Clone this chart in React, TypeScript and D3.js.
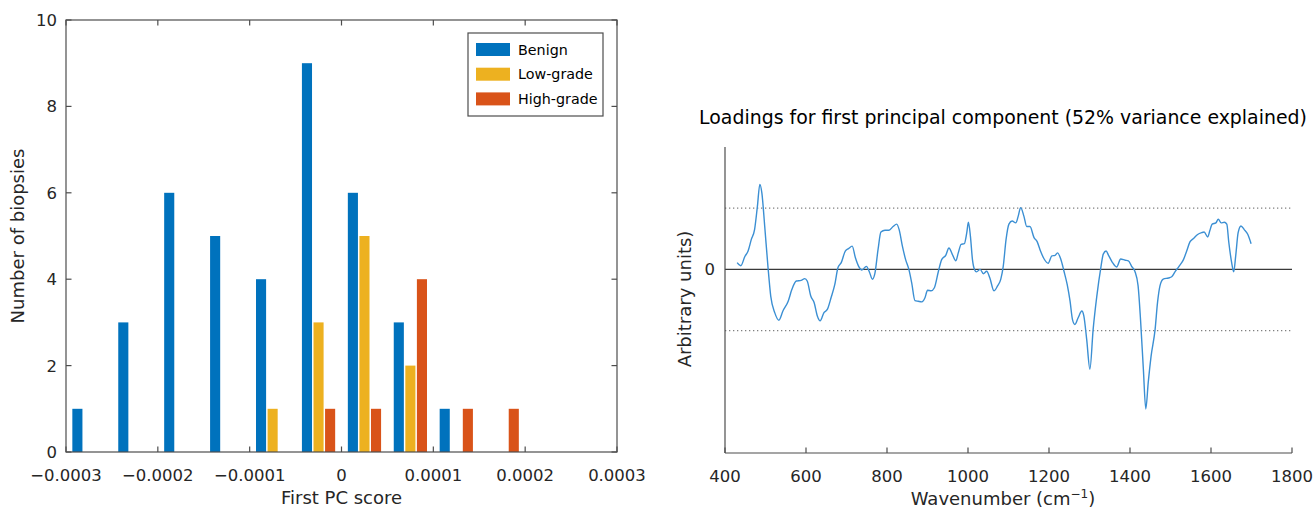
import React from "react";
import * as d3 from "d3";

// ---------- Left chart data (histogram of first PC score) ----------
const binCenters = [-0.000275, -0.000225, -0.000175, -0.000125, -0.000075, -0.000025, 0.000025, 0.000075, 0.000125, 0.000175, 0.000225, 0.000275];
const binWidth = 0.00005;
const benign = [1, 3, 6, 5, 4, 9, 6, 3, 1, 0, 0, 0];
const lowGrade = [0, 0, 0, 0, 1, 3, 5, 2, 0, 0, 0, 0];
const highGrade = [0, 0, 0, 0, 0, 1, 1, 4, 1, 1, 0, 0];
const seriesNames = ["Benign", "Low-grade", "High-grade"];
const seriesColors = ["#0072BD", "#EDB120", "#D95319"];
const xTicksLeft = [-0.0003, -0.0002, -0.0001, 0, 0.0001, 0.0002, 0.0003];
const xTickLabelsLeft = ["\u22120.0003", "\u22120.0002", "\u22120.0001", "0", "0.0001", "0.0002", "0.0003"];
const yTicksLeft = [0, 2, 4, 6, 8, 10];

// ---------- Right chart data (PC1 loadings) ----------
const wavenumbers = [430, 439, 449, 457, 465, 473, 480, 486, 491, 498, 506, 513, 523, 533, 543, 556, 565, 576, 588, 597, 603, 612, 620, 628, 635, 644, 653, 662, 671, 679, 687, 697, 705, 714, 722, 730, 738, 749, 757, 764, 770, 778, 785, 795, 805, 815, 824, 830, 838, 846, 854, 861, 869, 877, 886, 894, 900, 909, 917, 927, 935, 945, 953, 961, 970, 976, 983, 991, 997, 1001, 1006, 1011, 1016, 1021, 1030, 1038, 1046, 1054, 1064, 1073, 1081, 1087, 1094, 1101, 1109, 1118, 1124, 1130, 1138, 1145, 1153, 1163, 1171, 1179, 1188, 1198, 1207, 1215, 1221, 1229, 1237, 1245, 1252, 1258, 1264, 1272, 1281, 1286, 1293, 1301, 1309, 1318, 1328, 1334, 1341, 1347, 1356, 1367, 1377, 1388, 1396, 1404, 1412, 1420, 1426, 1433, 1439, 1445, 1452, 1462, 1468, 1474, 1482, 1495, 1503, 1511, 1521, 1532, 1540, 1548, 1556, 1567, 1577, 1583, 1592, 1597, 1603, 1612, 1618, 1625, 1633, 1639, 1644, 1651, 1656, 1661, 1667, 1674, 1682, 1691, 1699];
const loadings = [0.11, 0.06, 0.21, 0.30, 0.49, 0.65, 1.03, 1.39, 1.25, 0.71, 0.05, -0.44, -0.71, -0.83, -0.68, -0.52, -0.33, -0.19, -0.18, -0.15, -0.19, -0.44, -0.54, -0.76, -0.84, -0.71, -0.65, -0.46, -0.25, 0.03, 0.11, 0.30, 0.34, 0.38, 0.19, 0.05, -0.01, 0.05, -0.05, -0.16, -0.07, 0.33, 0.61, 0.64, 0.64, 0.70, 0.74, 0.65, 0.38, 0.16, 0.0, -0.22, -0.51, -0.52, -0.53, -0.46, -0.34, -0.35, -0.30, -0.03, 0.16, 0.23, 0.35, 0.25, 0.14, 0.27, 0.41, 0.42, 0.60, 0.77, 0.54, 0.16, 0.0, -0.04, 0.0, -0.07, -0.03, -0.14, -0.35, -0.27, -0.16, 0.05, 0.49, 0.74, 0.79, 0.76, 0.87, 1.01, 0.87, 0.70, 0.70, 0.52, 0.45, 0.30, 0.17, 0.10, 0.22, 0.23, 0.27, 0.17, -0.03, -0.25, -0.52, -0.82, -0.90, -0.79, -0.68, -0.76, -1.14, -1.63, -0.98, -0.44, 0.03, 0.25, 0.30, 0.23, 0.12, 0.04, 0.17, 0.15, 0.14, 0.05, -0.03, -0.27, -0.82, -1.63, -2.28, -1.85, -1.42, -0.98, -0.54, -0.27, -0.16, -0.14, -0.12, -0.04, 0.05, 0.16, 0.30, 0.45, 0.50, 0.57, 0.60, 0.61, 0.53, 0.63, 0.74, 0.76, 0.82, 0.76, 0.77, 0.74, 0.44, 0.11, -0.04, 0.22, 0.60, 0.71, 0.65, 0.57, 0.42];
const xTicksRight = [400, 600, 800, 1000, 1200, 1400, 1600, 1800];
const thresholdLevels = [1, -1];

const FONT = "DejaVu Sans";

export default function App() {
  // Left scales
  const xL = d3.scaleLinear().domain([-0.0003, 0.0003]).range([66, 617]);
  const yL = d3.scaleLinear().domain([0, 10]).range([452, 20]);
  const binPx = xL(binWidth) - xL(0);
  const barW = binPx * 0.22;
  const barOff = binPx * 0.252;
  const series = [benign, lowGrade, highGrade];

  // Right scales
  const xR = d3.scaleLinear().domain([400, 1800]).range([725, 1292]);
  const yR = d3.scaleLinear().domain([-3, 2]).range([453, 147]);
  const pts = wavenumbers.map((w, i) => [w, loadings[i]] as [number, number]);
  const line = d3
    .line<[number, number]>()
    .x((d) => xR(d[0]))
    .y((d) => yR(d[1]))
    .curve(d3.curveMonotoneX);

  const axisColor = "#4d4d4d";
  const L = { x0: xL.range()[0], x1: xL.range()[1], y0: yL.range()[1], y1: yL.range()[0] };

  return (
    <svg
      width={1313}
      height={509}
      style={{ position: "absolute", left: 0, top: 0, background: "#fff" }}
      fontFamily={FONT}
    >
      {/* ================= Left chart ================= */}
      <g>
        {series.map((vals, si) =>
          vals.map((v, bi) =>
            v > 0 ? (
              <rect
                key={`b${si}-${bi}`}
                x={xL(binCenters[bi]) + (si - 1) * barOff - barW / 2}
                y={yL(v)}
                width={barW}
                height={yL(0) - yL(v)}
                fill={seriesColors[si]}
              />
            ) : null
          )
        )}
        {/* box */}
        <rect x={L.x0} y={L.y0} width={L.x1 - L.x0} height={L.y1 - L.y0} fill="none" stroke={axisColor} strokeWidth={1.2} />
        {/* x ticks */}
        {xTicksLeft.map((t, i) => (
          <g key={`xl${i}`}>
            <line x1={xL(t)} x2={xL(t)} y1={L.y1} y2={L.y1 - 5.5} stroke={axisColor} strokeWidth={1.2} />
            <line x1={xL(t)} x2={xL(t)} y1={L.y0} y2={L.y0 + 5.5} stroke={axisColor} strokeWidth={1.2} />
            <text x={xL(t)} y={481} textAnchor="middle" fontSize={16.5} fill="#262626">
              {xTickLabelsLeft[i]}
            </text>
          </g>
        ))}
        {/* y ticks */}
        {yTicksLeft.map((t) => (
          <g key={`yl${t}`}>
            <line x1={L.x0} x2={L.x0 + 5.5} y1={yL(t)} y2={yL(t)} stroke={axisColor} strokeWidth={1.2} />
            <line x1={L.x1} x2={L.x1 - 5.5} y1={yL(t)} y2={yL(t)} stroke={axisColor} strokeWidth={1.2} />
            <text x={57} y={yL(t) + 6} textAnchor="end" fontSize={16.5} fill="#262626">
              {t}
            </text>
          </g>
        ))}
        <text x={(L.x0 + L.x1) / 2} y={504} textAnchor="middle" fontSize={18} fill="#262626">
          First PC score
        </text>
        <text transform={`translate(24,${(L.y0 + L.y1) / 2}) rotate(-90)`} textAnchor="middle" fontSize={18} fill="#262626">
          Number of biopsies
        </text>
        {/* legend */}
        <rect x={468} y={33} width={135} height={83} fill="#fff" stroke={axisColor} strokeWidth={1.2} />
        {seriesNames.map((n, i) => (
          <g key={`lg${i}`}>
            <rect x={476} y={43 + i * 24.7} width={34} height={13} fill={seriesColors[i]} />
            <text x={518} y={54.5 + i * 24.7} fontSize={14.3} fill="#000">
              {n}
            </text>
          </g>
        ))}
      </g>

      {/* ================= Right chart ================= */}
      <g>
        <text x={1003} y={124} textAnchor="middle" fontSize={18.9} fill="#000">
          Loadings for first principal component (52% variance explained)
        </text>
        {thresholdLevels.map((lv) => (
          <line
            key={`th${lv}`}
            x1={xR(400)}
            x2={xR(1800)}
            y1={yR(lv)}
            y2={yR(lv)}
            stroke="#808080"
            strokeWidth={1.3}
            strokeDasharray="1.3 2.7"
          />
        ))}
        <line x1={xR(400)} x2={xR(1800)} y1={yR(0)} y2={yR(0)} stroke="#3a3a3a" strokeWidth={1.4} />
        <path d={line(pts) || ""} fill="none" stroke="#3b8fd3" strokeWidth={1.4} />
        {/* axes */}
        <line x1={xR(400)} x2={xR(400)} y1={yR(2)} y2={yR(-3)} stroke={axisColor} strokeWidth={1.2} />
        <line x1={xR(400)} x2={xR(1800)} y1={yR(-3)} y2={yR(-3)} stroke={axisColor} strokeWidth={1.2} />
        {xTicksRight.map((t) => (
          <g key={`xr${t}`}>
            <line x1={xR(t)} x2={xR(t)} y1={yR(-3)} y2={yR(-3) - 5.5} stroke={axisColor} strokeWidth={1.2} />
            <text x={xR(t)} y={482} textAnchor="middle" fontSize={16.5} fill="#262626">
              {t}
            </text>
          </g>
        ))}
        <text x={715} y={yR(0) + 6} textAnchor="end" fontSize={16.5} fill="#262626">
          0
        </text>
        <text x={1003} y={505} textAnchor="middle" fontSize={18} fill="#262626">
          Wavenumber (cm
          <tspan fontSize={12} dy={-7}>
            {"\u22121"}
          </tspan>
          <tspan dy={7}>)</tspan>
        </text>
        <text transform={`translate(691,${299}) rotate(-90)`} textAnchor="middle" fontSize={18} fill="#262626">
          Arbitrary units)
        </text>
      </g>
    </svg>
  );
}
